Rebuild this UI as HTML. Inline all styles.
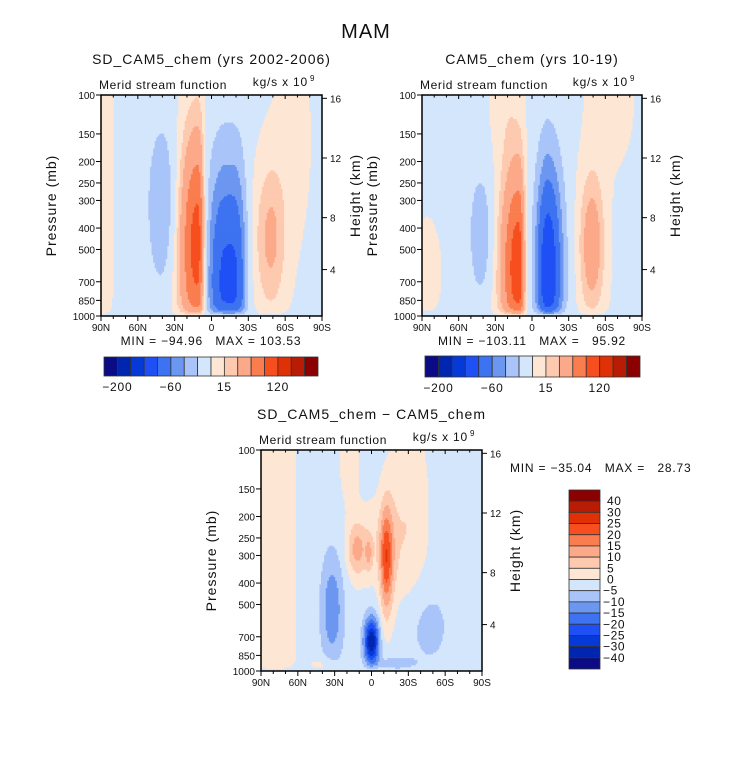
<!DOCTYPE html>
<html><head><meta charset="utf-8">
<style>
body{margin:0;background:#fff;}
svg text{font-family:"Liberation Sans",sans-serif;fill:#111;}
</style></head>
<body>
<svg id="fig" width="733" height="764" viewBox="0 0 733 764" xmlns="http://www.w3.org/2000/svg">
<text x="366" y="38" font-size="20" text-anchor="middle" letter-spacing="1">MAM</text>
</svg>
<script>
// ---- data ----
const palette = ["#0b0b85","#0026b0","#0539d8","#1e50f5","#3d72f0","#6c97f0","#a9c4f8","#d4e6fb","#fee6d4","#fdc9af","#fca98a","#fa7d4f","#f74e1f","#e03005","#b81c04","#8b0000"];
const levelsMain = [-200,-150,-120,-90,-60,-40,-20,0,15,30,60,90,120,150,200];
const levelsDiff = [-40,-30,-25,-20,-15,-10,-5,0,5,10,15,20,25,30,40];
const barLabelsMain = ["-200","-60","15","120"];
const barLabelIdxMain = [0,4,8,12];
const barLabelsDiff = ["40","30","25","20","15","10","5","0","-5","-10","-15","-20","-25","-30","-40"];
const pressureTicks = [100,150,200,250,300,400,500,700,850,1000];
const heightTicks = [16,12,8,4];
const heightOffsets = [0.015,0.285,0.555,0.79];
const latTicks = [90,60,30,0,-30,-60,-90];
const latLabels = ["90N","60N","30N","0","30S","60S","90S"];
// blobs: [lat, t(0 top..1 bottom), sigmaNorth, sigmaSouth, sigmaT, amplitude, lat-exponent]
const blobsSD = [[11,0.68,15,5,0.5,110,2],[-15,0.85,18,13,0.55,-96,3],[40,0.5,13,13,0.4,-35,2],[-48,0.65,12,12,0.33,38,2],[88,0.5,8,8,2,8,2],[-66,0.2,15,15,0.5,8,2]];
const baseSD = -3;
const blobsCAM = [[11,0.78,14,5,0.45,115,2],[-13,0.8,10,12,0.5,-115,2],[42,0.63,10,10,0.3,-32,2],[-49,0.68,10,10,0.32,50,2],[-64,0.0,20,20,0.35,8,2],[86,0.8,12,12,0.25,8,2],[22,0.05,12,12,0.25,10,2]];
const baseCAM = -3;
const blobsDiff = [[78,0.5,16,16,3,6,2],[-30,0.3,16,16,0.45,6,2],[-5,0.42,20,20,0.2,5,2],[12,0.45,8,8,0.12,12,2],[2,0.47,3,3,0.08,8,2],[-12,0.5,5,6,0.25,22,2],[0,0.87,6,6,0.11,-33,2],[32,0.72,9,9,0.25,-12,2],[-45,0.8,20,20,0.2,-5,2],[40,0.98,12,12,0.04,5,2],[-20,0.97,14,14,0.03,-10,2],[18,0.05,8,8,0.2,5,2]];
const baseDiff = -2;

const NS = "http://www.w3.org/2000/svg";
const svg = document.getElementById("fig");
function el(tag, attrs, parent){const e=document.createElementNS(NS,tag);for(const k in attrs)e.setAttribute(k,attrs[k]);(parent||svg).appendChild(e);return e;}
function txt(s, attrs, parent){const e=el("text",attrs,parent);e.textContent=s;return e;}

function panel(cfg){
  const g=el("g",{});
  
  
  const X=cfg.x,Y=cfg.y,W=cfg.w,H=cfg.h;
  const xLat=lat=>X+(90-lat)/180*W;
  const yP=p=>Y+(Math.log10(p)-2)*H;
  const nx=140, ny=120, field=el("g",{},g);
  
  
  for(let j=0;j<ny;j++){
    const t=(j+0.5)/ny, taper=1-Math.exp(-(1-t)*45);
    let run=-1, start=0;
    for(let i=0;i<=nx;i++){
      let idx=-2;
      if(i<nx){
        const lat=90-(i+0.5)/nx*180;
        let v=cfg.base;
        for(const b of cfg.blobs){
          const s=lat>=b[0]?b[2]:b[3];
          const dx=Math.abs(lat-b[0])/s,dt=(t-b[1])/b[4];
          v+=b[5]*Math.exp(-Math.pow(dx,b[6])-dt*dt)*taper;
        }
        idx=0;while(idx<cfg.levels.length&&v>=cfg.levels[idx])idx++;
      }
      if(idx!==run){
        if(run>=0){
          el("rect",{x:(X+start/nx*W).toFixed(2),y:(Y+j/ny*H).toFixed(2),width:((i-start)/nx*W+0.4).toFixed(2),height:(H/ny+0.4).toFixed(2),fill:palette[run]},field);
        }
        run=idx;start=i;
      }
    }
  }
  el("rect",{x:X,y:Y,width:W,height:H,fill:"none",stroke:"#000","stroke-width":1.5},g);
  pressureTicks.forEach(p=>{
    const y=yP(p);
    el("line",{x1:X-5,x2:X,y1:y,y2:y,stroke:"#000"},g);
    const t=txt(String(p),{x:X-6,y:y+4,"font-size":10,"text-anchor":"end"},g);
    
    
  });
  heightTicks.forEach((h,k)=>{
    const y=Y+heightOffsets[k]*H;
    el("line",{x1:X+W,x2:X+W+5,y1:y,y2:y,stroke:"#000"},g);
    const t=txt(String(h),{x:X+W+8,y:y+4,"font-size":10},g);
    
    
  });
  latTicks.forEach((l,k)=>{
    const x=xLat(l);
    el("line",{x1:x,x2:x,y1:Y+H,y2:Y+H+5,stroke:"#000"},g);
    el("line",{x1:x,x2:x,y1:Y,y2:Y+4,stroke:"#000"},g);
    const t=txt(latLabels[k],{x:x,y:Y+H+15,"font-size":10,"text-anchor":"middle"},g);
    
    
  });
  for(let l=80;l>-90;l-=10){if(l%30===0)continue;const x=xLat(l);
    el("line",{x1:x,x2:x,y1:Y+H,y2:Y+H+3,stroke:"#000"},g);el("line",{x1:x,x2:x,y1:Y,y2:Y+2.5,stroke:"#000"},g);}
  const t1=txt(cfg.title,{x:X+W/2,y:Y-31,"font-size":14,"text-anchor":"middle","letter-spacing":"1"},g);
  
  const t2=txt("Merid stream function",{x:X-2,y:Y-6,"font-size":12,"letter-spacing":"0.6"},g);
  
  const t3=txt("kg/s x 10",{x:X+W-14,y:Y-9,"font-size":12,"text-anchor":"end","letter-spacing":"0.8"},g);
  
  txt("9",{x:X+W-12,y:Y-14,"font-size":8},g);
  const t4=txt("Pressure (mb)",{x:0,y:0,"font-size":14,"text-anchor":"middle","letter-spacing":"1",transform:`translate(${X-45},${Y+H/2}) rotate(-90)`},g);
  
  const t5=txt("Height (km)",{x:0,y:0,"font-size":14,"text-anchor":"middle","letter-spacing":"1",transform:`translate(${X+W+38},${Y+H/2-10}) rotate(-90)`},g);
  
  const t6=txt(cfg.minmax,{x:cfg.mmx,y:cfg.mmy,"font-size":12,"text-anchor":cfg.mmAnchor,"letter-spacing":"0.8"},g);
  
}

function hbar(x,y,w,h){
  const g=el("g",{});
  
  const bw=w/palette.length;
  palette.forEach((c,i)=>{el("rect",{x:x+i*bw,y:y,width:bw,height:h,fill:c,stroke:"#333","stroke-width":0.8},g);});
  barLabelsMain.forEach((s,k)=>{const t=txt(s.replace("-","\u2212"),{x:x+(barLabelIdxMain[k]+1)*bw,y:y+h+15,"font-size":12,"text-anchor":"middle","letter-spacing":"0.8"},g);
    });
}
function vbar(x,y,w,h){
  const g=el("g",{});
  
  const bh=h/palette.length;
  palette.slice().reverse().forEach((c,i)=>{el("rect",{x:x,y:y+i*bh,width:w,height:bh,fill:c,stroke:"#333","stroke-width":0.8},g);});
  barLabelsDiff.forEach((s,k)=>{const t=txt(s.replace("-","\u2212"),{x:x+w+(s[0]==="-"?3:7),y:y+(k+1)*bh+4,"font-size":12,"letter-spacing":"0.6"},g);
    });
}

const sp="\u00a0";
panel({name:"sd-cam5-panel",x:101,y:95,w:221,h:221,title:"SD_CAM5_chem (yrs 2002-2006)",blobs:blobsSD,base:baseSD,levels:levelsMain,minmax:"MIN = \u221294.96"+sp+sp+sp+"MAX = 103.53",mmx:211,mmy:345,mmAnchor:"middle"});
panel({name:"cam5-panel",x:422,y:95,w:220,h:221,title:"CAM5_chem (yrs 10-19)",blobs:blobsCAM,base:baseCAM,levels:levelsMain,minmax:"MIN = \u2212103.11"+sp+sp+sp+"MAX ="+sp+sp+sp+"95.92",mmx:532,mmy:345,mmAnchor:"middle"});
panel({name:"difference-panel",x:261,y:450,w:221,h:221,title:"SD_CAM5_chem \u2212 CAM5_chem",blobs:blobsDiff,base:baseDiff,levels:levelsDiff,minmax:"MIN = \u221235.04"+sp+sp+sp+"MAX ="+sp+sp+sp+"28.73",mmx:510,mmy:472,mmAnchor:"start"});
hbar(104,357,214,19);
hbar(425,356,215,21);
vbar(569,490,31,179);
</script>
</body></html>
